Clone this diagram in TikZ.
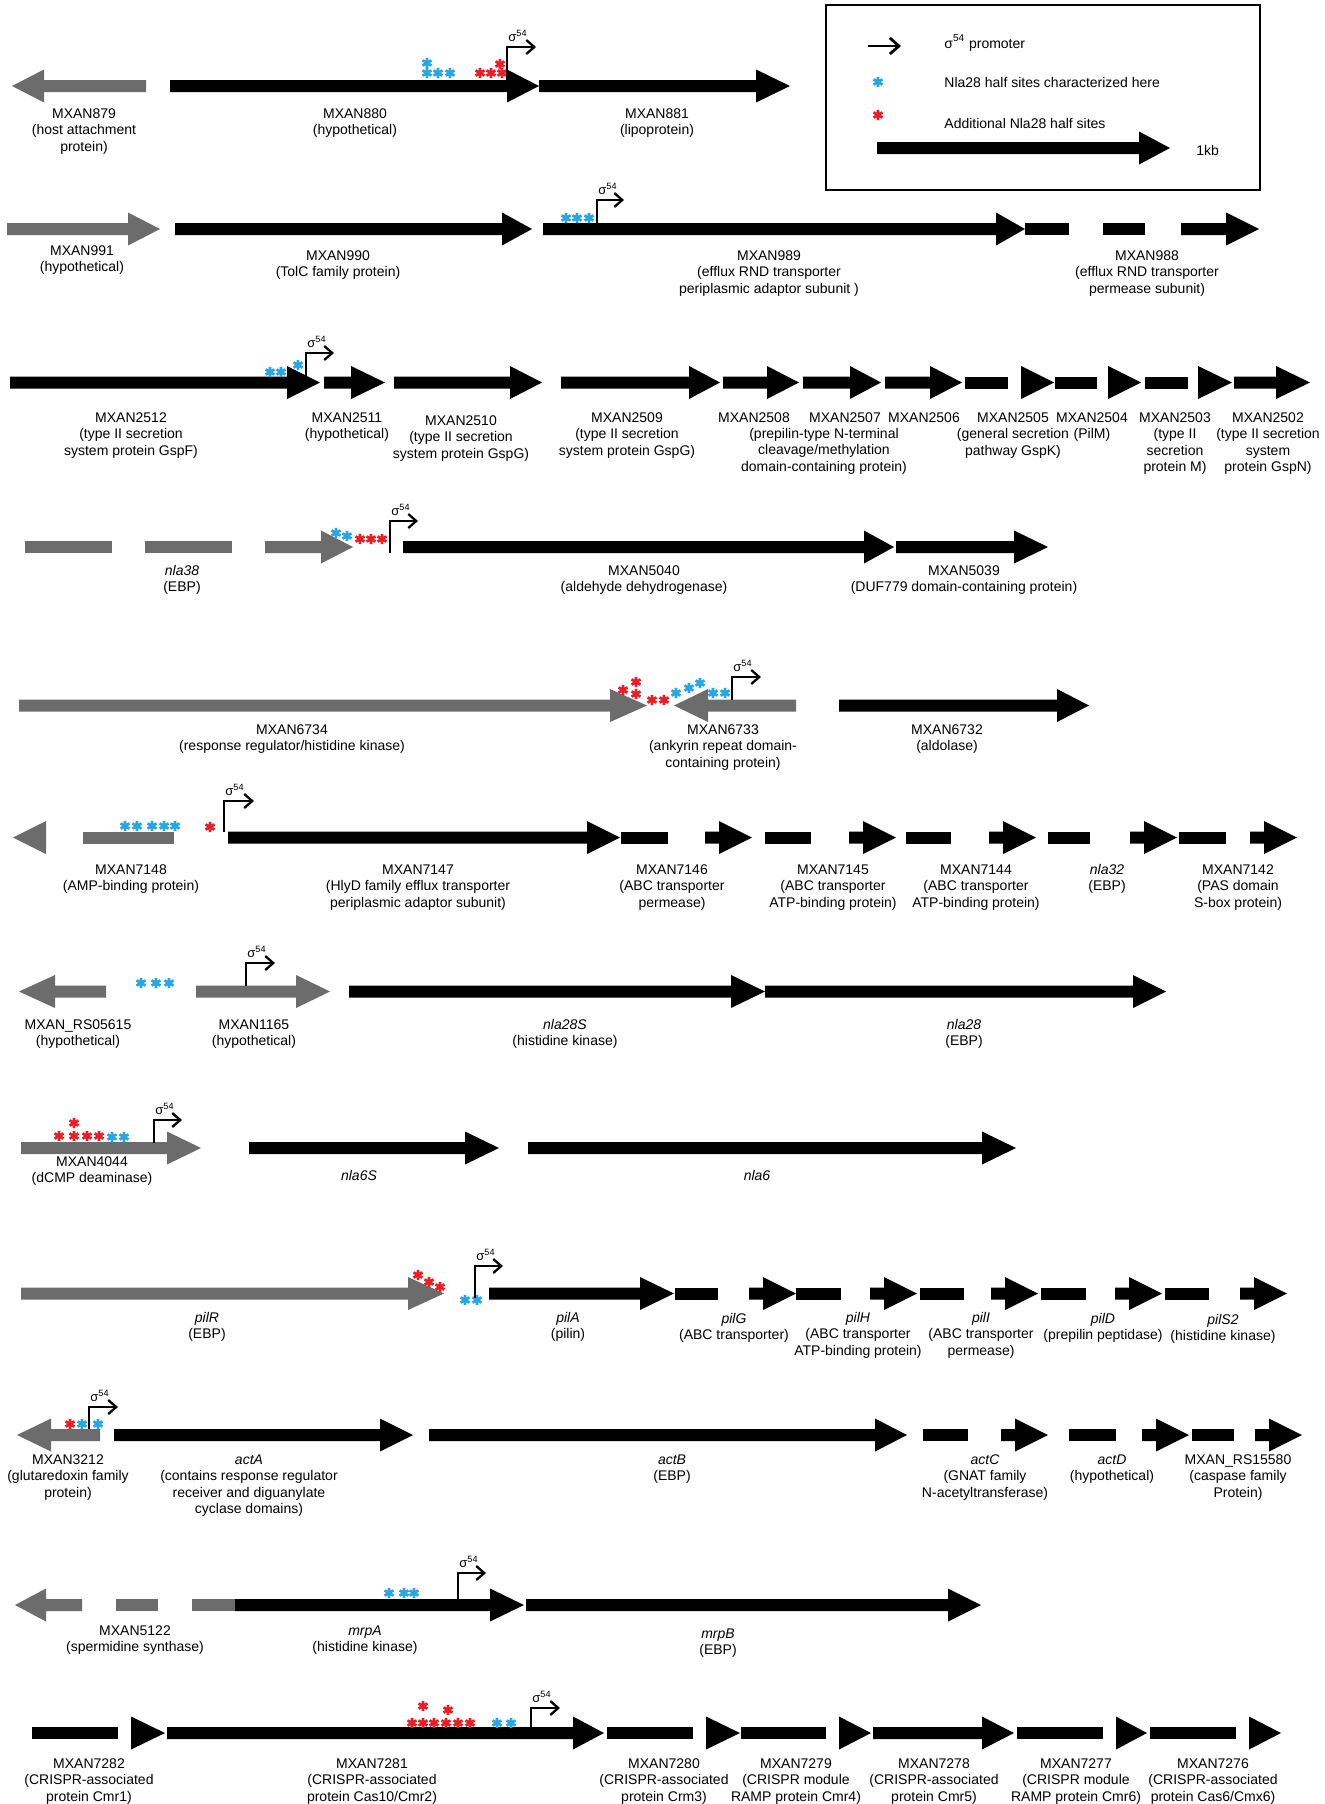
\documentclass[tikz,border=0pt]{standalone}
\usepackage{fontspec}
\setmainfont{Liberation Sans}
\usetikzlibrary{arrows.meta}
\definecolor{gr}{RGB}{108,108,108}
\definecolor{bl}{RGB}{38,166,228}
\definecolor{rd}{RGB}{236,28,36}
\newcommand{\lf}{\fontsize{7}{8.25}\selectfont}
\tikzset{
 lab/.style={font=\lf, align=center, inner sep=0pt, anchor=north},
 leg/.style={font=\lf, inner sep=0pt, anchor=west},
 prom/.style={line width=1.15pt, -{Straight Barb[length=4pt,width=7pt,line width=1.15pt]}},
 legprom/.style={line width=1.4pt, -{Straight Barb[length=4.5pt,width=8pt,line width=1.4pt]}},
 hsite/.style={line width=1.35pt},
 sig/.style={font=\fontsize{6.5}{7}\selectfont, inner sep=0pt},
}
% right-pointing gene: start, head base, tip, y
\newcommand{\gR}[5][black]{\fill[#1] (#2,#5-6) -- (#3,#5-6) -- (#3,#5-16.5) -- (#4,#5) -- (#3,#5+16.5) -- (#3,#5+6) -- (#2,#5+6) -- cycle;}
% left-pointing gene: tip, head base, end, y
\newcommand{\gL}[5][black]{\fill[#1] (#2,#5) -- (#3,#5-16.5) -- (#3,#5-6) -- (#4,#5-6) -- (#4,#5+6) -- (#3,#5+6) -- (#3,#5+16.5) -- cycle;}
\newcommand{\gS}[4][black]{\fill[#1] (#2,#4-6) rectangle (#3,#4+6);}
\newcommand{\hR}[4][black]{\fill[#1] (#2,#4-16.5) -- (#3,#4) -- (#2,#4+16.5) -- cycle;}
\newcommand{\hL}[4][black]{\fill[#1] (#2,#4) -- (#3,#4-16.5) -- (#3,#4+16.5) -- cycle;}
\newcommand{\hst}[3]{\draw[hsite,#1] (#2,#3-5.2) -- (#2,#3+5.2) (#2-4.5,#3-2.6) -- (#2+4.5,#3+2.6) (#2-4.5,#3+2.6) -- (#2+4.5,#3-2.6);}
% promoter: x, y bottom, y top, x end, name
\newcommand{\prmtr}[5]{\draw[prom] (#1,#2) |- (#4,#3); \node[sig] (#5) at (#1+11,#3-11) {σ\textsuperscript{54}};}
\begin{document}
\begin{tikzpicture}[x=0.5pt,y=-0.5pt]
\useasboundingbox (0,0) rectangle (1325,1804);
\fill[white] (0,0) rectangle (1325,1804);

% ---------- legend ----------
\draw[line width=1.25pt] (826,5) rectangle (1260,190);
\draw[legprom] (868,46) -- (901,46);
\node[leg] (lg1) at (944,43) {σ\textsuperscript{54} promoter};
\hst{bl}{878}{82}
\node[leg] (lg2) at (944,82) {Nla28 half sites characterized here};
\hst{rd}{878}{115}
\node[leg] (lg3) at (944,123) {Additional Nla28 half sites};
\gR{877}{1139}{1170}{148}
\node[leg] (lg4) at (1196,150) {1kb};

% ---------- row 1 ----------
\gL[gr]{12}{44}{146}{86}
\gR{170}{507}{539}{86}
\gR{539}{756}{790}{86}
\hst{bl}{427}{63}\hst{bl}{427}{73}\hst{bl}{438}{73}\hst{bl}{450}{73}
\hst{rd}{480}{73}\hst{rd}{491}{73}\hst{rd}{502}{73}\hst{rd}{500}{64}
\prmtr{507}{80}{47}{536}{s1}
\node[lab] (n879) at (84,106.5) {\strut MXAN879\\(host attachment\\protein)};
\node[lab] (n880) at (355,106.5) {\strut MXAN880\\(hypothetical)};
\node[lab] (n881) at (657,106.5) {\strut MXAN881\\(lipoprotein)};

% ---------- row 2 ----------
\gR[gr]{7}{128}{160}{229}
\gR{175}{502}{532}{229}
\gR{543}{996}{1025}{229}
\gS{1025}{1069}{229}\gS{1103}{1145}{229}\gR{1181}{1226}{1259}{229}
\hst{bl}{566}{218}\hst{bl}{577}{218}\hst{bl}{589}{218}
\prmtr{597}{223}{200}{624}{s2}
\node[lab] (n991) at (82,243.5) {\strut MXAN991\\(hypothetical)};
\node[lab] (n990) at (338,248.5) {\strut MXAN990\\(TolC family protein)};
\node[lab] (n989) at (769,248.5) {\strut MXAN989\\(efflux RND transporter\\periplasmic adaptor subunit )};
\node[lab] (n988) at (1147,248.5) {\strut MXAN988\\(efflux RND transporter\\permease subunit)};

% ---------- row 3 ----------
\gR{10}{287}{320}{382.5}
\gR{324}{351}{385}{382.5}
\gR{394}{510}{542}{382.5}
\gR{561}{689}{720}{382.5}
\gR{723}{767}{799}{382.5}
\gR{803}{850}{881}{382.5}
\gR{885}{930}{962}{382.5}
\gS{965}{1008}{382.5}\hR{1021}{1054}{382.5}
\gS{1055}{1097}{382.5}\hR{1108}{1141}{382.5}
\gS{1145}{1188}{382.5}\hR{1198}{1232}{382.5}
\gR{1234}{1276}{1310}{382.5}
\hst{bl}{270}{372}\hst{bl}{281}{372}\hst{bl}{298}{365}
\prmtr{306}{377}{353}{334}{s3}
\node[lab] (n2512) at (131,410.5) {\strut MXAN2512\\(type II secretion\\system protein GspF)};
\node[lab] (n2511) at (347,410.5) {\strut MXAN2511\\(hypothetical)};
\node[lab] (n2510) at (461,413.5) {\strut MXAN2510\\(type II secretion\\system protein GspG)};
\node[lab] (n2509) at (627,410.5) {\strut MXAN2509\\(type II secretion\\system protein GspG)};
\node[lab] (n2508) at (754,410.5) {\strut MXAN2508};
\node[lab] (n2507) at (845,410.5) {\strut MXAN2507};
\node[lab] (n2508d) at (824,426.5) {\strut (prepilin-type N-terminal\\cleavage/methylation\\domain-containing protein)};
\node[lab] (n2506) at (924,410.5) {\strut MXAN2506};
\node[lab] (n2505) at (1013,410.5) {\strut MXAN2505\\(general secretion\\pathway GspK)};
\node[lab] (n2504) at (1092,410.5) {\strut MXAN2504\\(PilM)};
\node[lab] (n2503) at (1175,410.5) {\strut MXAN2503\\(type II\\secretion\\protein M)};
\node[lab] (n2502) at (1268,410.5) {\strut MXAN2502\\(type II secretion\\system\\protein GspN)};

% ---------- row 4 ----------
\gS[gr]{25}{112}{547}\gS[gr]{145}{232}{547}\gR[gr]{265}{321}{353}{547}
\gR{403}{864}{894}{547}
\gR{896}{1014}{1048}{547}
\hst{bl}{336}{533}\hst{bl}{347}{536}
\hst{rd}{360}{539}\hst{rd}{371}{539}\hst{rd}{382}{539}
\prmtr{390}{553}{521}{418}{s4}
\node[lab] (n38) at (182,563.5) {\strut \textit{nla38}\\(EBP)};
\node[lab] (n5040) at (644,563.5) {\strut MXAN5040\\(aldehyde dehydrogenase)};
\node[lab] (n5039) at (964,563.5) {\strut MXAN5039\\(DUF779 domain-containing protein)};

% ---------- row 5 ----------
\gR[gr]{19}{610}{647}{705.5}
\gL[gr]{674}{708}{796}{705.5}
\gR{839}{1057}{1089}{705.5}
\hst{rd}{623}{690}\hst{rd}{636}{682}\hst{rd}{636}{694}\hst{rd}{652}{700}\hst{rd}{664}{700}
\hst{bl}{676}{693}\hst{bl}{689}{688}\hst{bl}{700}{683}\hst{bl}{713}{693}\hst{bl}{725}{693}
\prmtr{732}{700}{677}{761}{s5}
\node[lab] (n6734) at (292,722.5) {\strut MXAN6734\\(response regulator/histidine kinase)};
\node[lab] (n6733) at (723,722.5) {\strut MXAN6733\\(ankyrin repeat domain-\\containing protein)};
\node[lab] (n6732) at (947,722.5) {\strut MXAN6732\\(aldolase)};

% ---------- row 6 ----------
\hL[gr]{13}{46}{837.5}
\gS[gr]{83}{174}{837.5}
\gR{228}{587}{620}{837.5}
\gS{621}{668}{837.5}\gR{705}{719}{752}{837.5}
\gS{765}{811}{837.5}\gR{849}{863}{896}{837.5}
\gS{906}{951}{837.5}\gR{989}{1003}{1036}{837.5}
\gS{1048}{1090}{837.5}\gR{1130}{1144}{1177}{837.5}
\gS{1179}{1226}{837.5}\gR{1250}{1264}{1297}{837.5}
\hst{bl}{125}{826}\hst{bl}{137}{826}\hst{bl}{152}{826}\hst{bl}{164}{826}\hst{bl}{175}{826}
\hst{rd}{210}{827}
\prmtr{224}{832}{801}{254}{s6}
\node[lab] (n7148) at (131,862.5) {\strut MXAN7148\\(AMP-binding protein)};
\node[lab] (n7147) at (418,862.5) {\strut MXAN7147\\(HlyD family efflux transporter\\periplasmic adaptor subunit)};
\node[lab] (n7146) at (672,862.5) {\strut MXAN7146\\(ABC transporter\\permease)};
\node[lab] (n7145) at (833,862.5) {\strut MXAN7145\\(ABC transporter\\ATP-binding protein)};
\node[lab] (n7144) at (976,862.5) {\strut MXAN7144\\(ABC transporter\\ATP-binding protein)};
\node[lab] (n32) at (1107,862.5) {\strut \textit{nla32}\\(EBP)};
\node[lab] (n7142) at (1238,862.5) {\strut MXAN7142\\(PAS domain\\S-box protein)};

% ---------- row 7 ----------
\gL[gr]{19}{55}{106}{991.5}
\gR[gr]{196}{296}{330}{991.5}
\gR{349}{731}{765}{991.5}
\gR{765}{1133}{1166}{991.5}
\hst{bl}{141}{983}\hst{bl}{156}{983}\hst{bl}{169}{983}
\prmtr{246}{986}{963}{275}{s7}
\node[lab] (n5615) at (78,1017.5) {\strut MXAN\_RS05615\\(hypothetical)};
\node[lab] (n1165) at (254,1017.5) {\strut MXAN1165\\(hypothetical)};
\node[lab] (n28S) at (565,1017.5) {\strut \textit{nla28S}\\(histidine kinase)};
\node[lab] (n28) at (964,1017.5) {\strut \textit{nla28}\\(EBP)};

% ---------- row 8 ----------
\gR[gr]{21}{167}{201}{1148}
\gR{249}{465}{499}{1148}
\gR{528}{982}{1016}{1148}
\hst{rd}{74}{1123}\hst{rd}{59}{1136}\hst{rd}{74}{1136}\hst{rd}{87}{1136}\hst{rd}{99}{1136}
\hst{bl}{112}{1137}\hst{bl}{124}{1137}
\prmtr{154}{1143}{1120}{182}{s8}
\node[lab] (n4044) at (92,1154.5) {\strut MXAN4044\\(dCMP deaminase)};
\node[lab] (n6S) at (359,1168.5) {\strut \textit{nla6S}};
\node[lab] (n6) at (757,1168.5) {\strut \textit{nla6}};

% ---------- row 9 ----------
\gR[gr]{21}{408}{444}{1293.5}
\gR{489}{640}{674}{1293.5}
\gS{675}{718}{1293.5}\gR{749}{763}{796}{1293.5}
\gS{796}{841}{1293.5}\gR{870}{884}{917}{1293.5}
\gS{920}{964}{1293.5}\gR{991}{1005}{1038}{1293.5}
\gS{1041}{1086}{1293.5}\gR{1115}{1129}{1162}{1293.5}
\gS{1165}{1209}{1293.5}\gR{1240}{1254}{1287}{1293.5}
\hst{rd}{418}{1275}\hst{rd}{429}{1282}\hst{rd}{440}{1287}
\hst{bl}{465}{1300}\hst{bl}{477}{1300}
\prmtr{475}{1298}{1266}{503}{s9}
\node[lab] (pR) at (207,1310.5) {\strut \textit{pilR}\\(EBP)};
\node[lab] (pA) at (568,1310.5) {\strut \textit{pilA}\\(pilin)};
\node[lab] (pG) at (734,1311.5) {\strut \textit{pilG}\\(ABC transporter)};
\node[lab] (pH) at (858,1310.5) {\strut \textit{pilH}\\(ABC transporter\\ATP-binding protein)};
\node[lab] (pI) at (981,1310.5) {\strut \textit{pilI}\\(ABC transporter\\permease)};
\node[lab] (pD) at (1103,1311.5) {\strut \textit{pilD}\\(prepilin peptidase)};
\node[lab] (pS2) at (1223,1312.5) {\strut \textit{pilS2}\\(histidine kinase)};

% ---------- row 10 ----------
\gL[gr]{17}{51}{100}{1435}
\gR{114}{380}{413}{1435}
\gR{429}{875}{907}{1435}
\gS{923}{968}{1435}\gR{1001}{1015}{1048}{1435}
\gS{1069}{1116}{1435}\gR{1142}{1156}{1189}{1435}
\gS{1192}{1234}{1435}\gR{1255}{1269}{1302}{1435}
\hst{rd}{70}{1424}\hst{bl}{82}{1424}\hst{bl}{98}{1424}
\prmtr{89}{1429}{1407}{118}{s10}
\node[lab] (n3212) at (68,1452.5) {\strut MXAN3212\\(glutaredoxin family\\protein)};
\node[lab] (aA) at (249,1452.5) {\strut \textit{actA}\\(contains response regulator\\receiver and diguanylate\\cyclase domains)};
\node[lab] (aB) at (672,1452.5) {\strut \textit{actB}\\(EBP)};
\node[lab] (aC) at (985,1452.5) {\strut \textit{actC}\\(GNAT family\\N-acetyltransferase)};
\node[lab] (aD) at (1112,1452.5) {\strut \textit{actD}\\(hypothetical)};
\node[lab] (n15580) at (1238,1452.5) {\strut MXAN\_RS15580\\(caspase family\\Protein)};

% ---------- row 11 ----------
\gL[gr]{15}{46}{82}{1605}
\gS[gr]{116}{158}{1605}
\gS[gr]{192}{235}{1605}
\gR{235}{490}{524}{1605}
\gR{526}{948}{981}{1605}
\hst{bl}{389}{1593}\hst{bl}{404}{1593}\hst{bl}{414}{1593}
\prmtr{458}{1599}{1573}{486}{s11}
\node[lab] (n5122) at (135,1623.5) {\strut MXAN5122\\(spermidine synthase)};
\node[lab] (mA) at (365,1623.5) {\strut \textit{mrpA}\\(histidine kinase)};
\node[lab] (mB) at (718,1626.5) {\strut \textit{mrpB}\\(EBP)};

% ---------- row 12 ----------
\gS{32}{118}{1733}\hR{131}{165}{1733}
\gR{167}{573}{604}{1733}
\gS{607}{693}{1733}\hR{706}{740}{1733}
\gS{741}{826}{1733}\hR{839}{871}{1733}
\gR{873}{982}{1014}{1733}
\gS{1017}{1103}{1733}\hR{1116}{1147}{1733}
\gS{1150}{1236}{1733}\hR{1249}{1281}{1733}
\hst{rd}{423}{1706}\hst{rd}{448}{1710}
\hst{rd}{412}{1723}\hst{rd}{423}{1723}\hst{rd}{434}{1723}\hst{rd}{446}{1723}\hst{rd}{458}{1723}\hst{rd}{470}{1723}
\hst{bl}{497}{1723}\hst{bl}{511}{1723}
\prmtr{531}{1727}{1708}{560}{s12}
\node[lab] (n7282) at (89,1756.5) {\strut MXAN7282\\(CRISPR-associated\\protein Cmr1)};
\node[lab] (n7281) at (372,1756.5) {\strut MXAN7281\\(CRISPR-associated\\protein Cas10/Cmr2)};
\node[lab] (n7280) at (664,1756.5) {\strut MXAN7280\\(CRISPR-associated\\protein Crm3)};
\node[lab] (n7279) at (796,1756.5) {\strut MXAN7279\\(CRISPR module\\RAMP protein Cmr4)};
\node[lab] (n7278) at (934,1756.5) {\strut MXAN7278\\(CRISPR-associated\\protein Cmr5)};
\node[lab] (n7277) at (1076,1756.5) {\strut MXAN7277\\(CRISPR module\\RAMP protein Cmr6)};
\node[lab] (n7276) at (1213,1756.5) {\strut MXAN7276\\(CRISPR-associated\\protein Cas6/Cmx6)};
\end{tikzpicture}
\end{document}
